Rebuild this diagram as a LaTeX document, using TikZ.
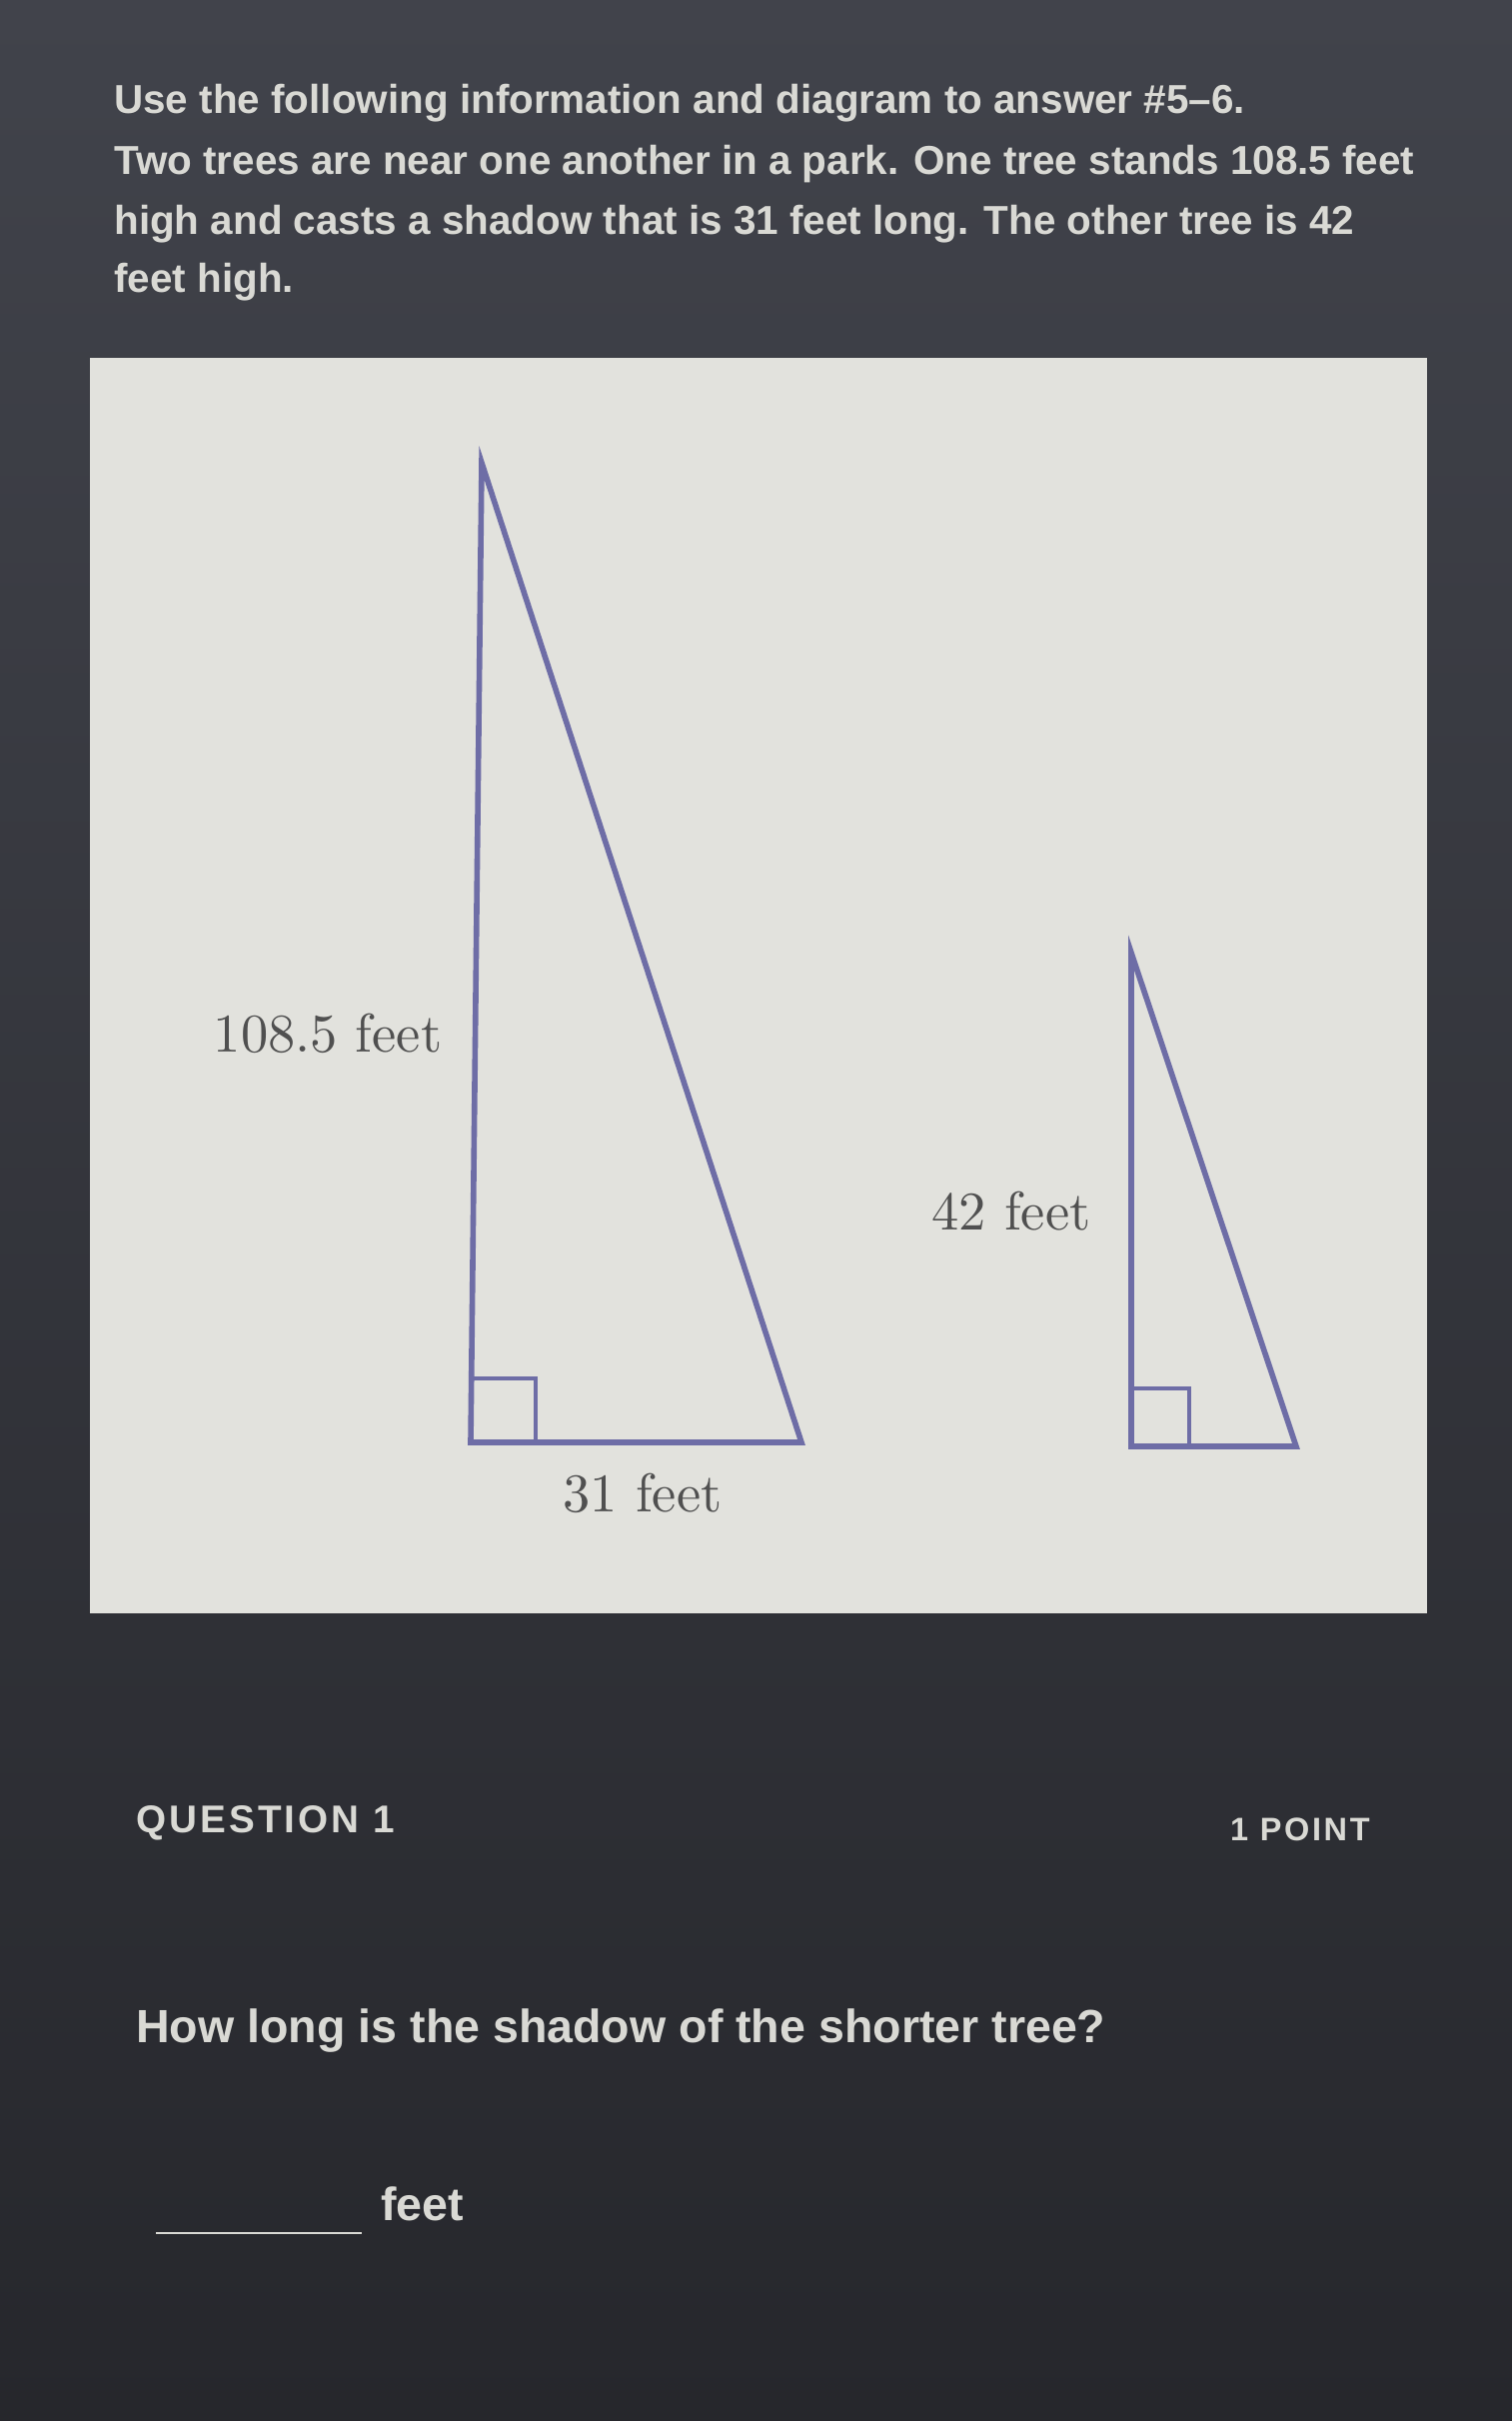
\documentclass[tikz,border=0pt]{standalone}
\usepackage{fontspec}
\usepackage{tikz}
\usetikzlibrary{positioning}
\newfontfamily\uifont{Liberation Sans}[Ligatures=TeX]
\newfontfamily\capsfont{Liberation Sans}[LetterSpace=8]
\newfontfamily\cmtenfont{lmroman10-regular.otf}
\definecolor{bgtop}{HTML}{41434B}
\definecolor{bgbot}{HTML}{26272C}
\definecolor{panelgray}{HTML}{E2E2DD}
\definecolor{triblue}{HTML}{6E6DA6}
\definecolor{lblgray}{HTML}{505050}
\definecolor{uitext}{HTML}{D9D9D4}

\begin{document}
\begin{tikzpicture}[
x=0.02cm, y=-0.02cm,
tri/.style={draw=triblue, line width=3.2pt, line join=miter},
rtbox/.style={draw=triblue, line width=1.8pt},
lbl/.style={font=\cmtenfont\fontsize{31}{36}\selectfont, text=lblgray, inner sep=0pt},
hdr/.style={font=\uifont\bfseries\fontsize{23}{28}\selectfont,
	text=uitext, anchor=base west, inner sep=0pt},
qtext/.style={font=\uifont\bfseries\fontsize{26.5}{30}\selectfont,
	text=uitext, anchor=base west, inner sep=0pt},
qcaps/.style={font=\capsfont\bfseries\fontsize{#1}{24}\selectfont,
	text=uitext, inner sep=0pt}
]
\useasboundingbox (0,0) rectangle (1513,2422);
\shade[top color=bgtop, bottom color=bgbot] (0,0) rectangle (1513,2422);

% header text
\node[hdr] (line1) at (114,114) {Use the following information and diagram to answer \#5--6.};
\node[hdr] (line2) at (114,175) {Two trees are near one another in a park. One tree stands 108.5 feet};
\node[hdr] (line3) at (114,235) {high and casts a shadow that is 31 feet long. The other tree is 42};
\node[hdr] (line4) at (114,293) {feet high.};

% white panel
\fill[panelgray] (90,358) rectangle (1428,1614);

% tall tree
\coordinate (bigtop) at (482,463);
\coordinate (bigfoot) at (471,1443);
\coordinate (bigtip) at (802,1443);
\draw[tri] (bigtop) -- (bigfoot) -- (bigtip) -- cycle;
\draw[rtbox] (bigfoot) ++(0,-64) -| ++(65,64);
\node[lbl] (bigh) at (328,1034) {108.5 feet};
\node[lbl] (bigs) at (643,1494) {31 feet};

% short tree
\coordinate (smalltop) at (1132,953);
\coordinate (smallfoot) at (1132,1447);
\coordinate (smalltip) at (1297,1447);
\draw[tri] (smalltop) -- (smallfoot) -- (smalltip) -- cycle;
\draw[rtbox] (smallfoot) ++(0,-58) -| ++(58,58);
\node[lbl] (smallh) at (1012,1212) {42 feet};

% question
\node[qcaps=22, anchor=base west] (qnum) at (136,1833) {QUESTION 1};
\node[qcaps=18.5, anchor=base east] (qpts) at (1371,1841) {1 POINT};
\node[qtext] (ask) at (136,2043) {How long is the shadow of the shorter tree?};
\coordinate (blankL) at (156,2234);
\coordinate (blankR) at (362,2234);
\draw[uitext, line width=1.6pt] (blankL) -- (blankR);
\node[qtext] (unit) at (381,2221) {feet};
\end{tikzpicture}
\end{document}
